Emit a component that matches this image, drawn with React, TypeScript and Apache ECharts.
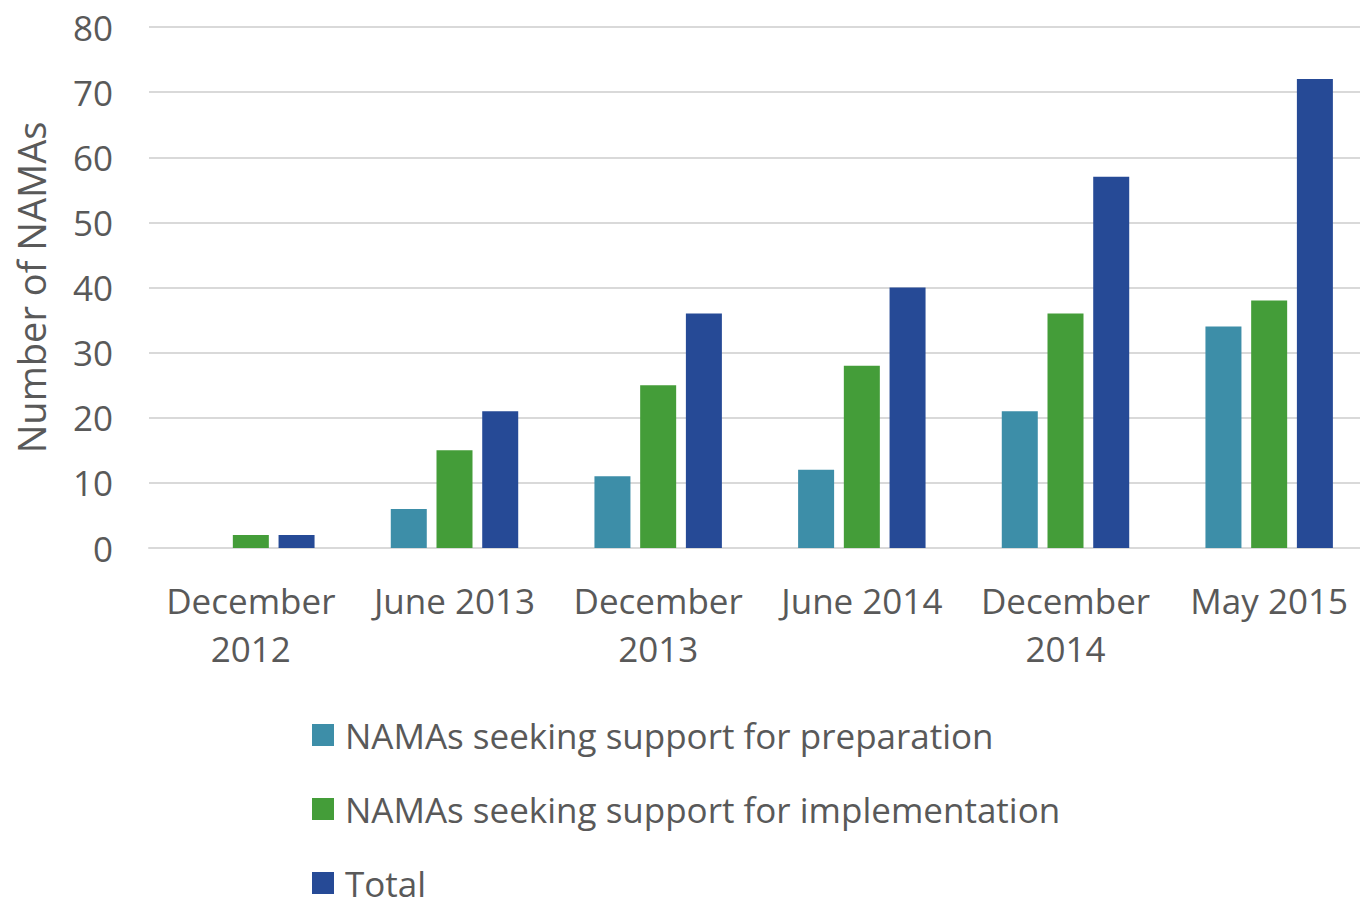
import React, { useEffect, useRef } from "react";
import * as echarts from "echarts";

const categories = ["December\n2012", "June 2013", "December\n2013", "June 2014", "December\n2014", "May 2015"];
const preparation = [0, 6, 11, 12, 21, 34];
const implementation = [2, 15, 25, 28, 36, 38];
const total = [2, 21, 36, 40, 57, 72];
const seriesNames = [
  "NAMAs seeking support for preparation",
  "NAMAs seeking support for implementation",
  "Total",
];
const colors = ["#3d8ea8", "#449d39", "#264a96"];

export default function App() {
  const ref = useRef<HTMLDivElement>(null);
  useEffect(() => {
    if (!ref.current) return;
    const chart = echarts.init(ref.current, null, { renderer: "svg" });
    const font = "'Open Sans', sans-serif";
    const txt = "#595959";
    chart.setOption({
      animation: false,
      textStyle: { fontFamily: font },
      grid: { left: 149, width: 1222, top: 27, bottom: 357, containLabel: false, outerBoundsMode: "none" },
      legend: {
        orient: "vertical",
        left: 307,
        top: 712,
        height: 190,
        itemWidth: 22,
        itemHeight: 22,
        itemGap: 38,
        icon: "rect",
        textStyle: { fontSize: 35, lineHeight: 36, color: txt, fontFamily: font, padding: [0, 0, 0, 6] },
        data: seriesNames,
      },
      xAxis: {
        type: "category",
        data: categories,
        axisLine: { show: true, lineStyle: { color: "#d9d9d9", width: 2 } },
        axisTick: { show: false },
        axisLabel: { fontSize: 35, color: txt, margin: 28, lineHeight: 48, interval: 0 },
      },
      yAxis: {
        type: "value",
        min: 0,
        max: 80,
        interval: 10,
        name: "Number of NAMAs",
        nameLocation: "middle",
        nameGap: 99,
        nameTextStyle: { fontSize: 38, color: txt },
        axisLine: { show: false },
        axisTick: { show: false },
        axisLabel: { fontSize: 35, color: txt, margin: 36 },
        splitLine: { lineStyle: { color: "#d9d9d9", width: 2 } },
      },
      series: [preparation, implementation, total].map((d, i) => ({
        type: "bar",
        name: seriesNames[i],
        data: d,
        barWidth: 36,
        barGap: "27%",
        itemStyle: { color: colors[i] },
      })),
    });
    return () => chart.dispose();
  }, []);
  return (
    <div
      ref={ref}
      style={{ position: "fixed", left: 0, top: 0, width: 1360, height: 905, background: "#fff" }}
    />
  );
}
